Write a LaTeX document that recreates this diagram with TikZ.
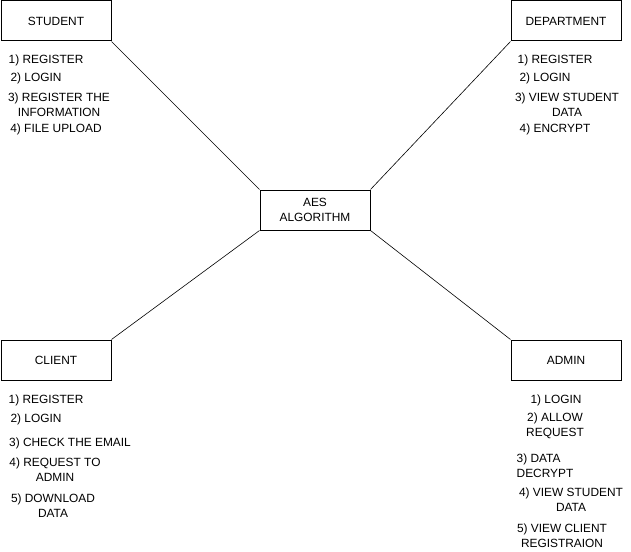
\documentclass[tikz,border=0pt]{standalone}
\usepackage{fontspec}
\setmainfont{Liberation Sans}

\begin{document}
\begin{tikzpicture}[x=1pt,y=-1pt,
		every node/.style={font=\fontsize{11.9}{15}\selectfont},
		entity/.style={draw,line width=1pt,minimum width=110pt,minimum height=40pt,inner sep=0pt,align=center},
		item/.style={inner sep=0pt,align=center}]
		\useasboundingbox (0,0) rectangle (631,551);

		\node[entity] (student) at (56,21) {STUDENT};
		\node[entity] (department) at (566,21) {DEPARTMENT};
		\node[entity] (aes) at (315,210) {AES\\ALGORITHM};
		\node[entity] (client) at (56,360) {CLIENT};
		\node[entity] (admin) at (566,360) {ADMIN};

		\draw[line width=0.6pt] (student.south east) -- (aes.north west);
		\draw[line width=0.6pt] (department.south west) -- (aes.north east);
		\draw[line width=0.6pt] (client.north east) -- (aes.south west);
		\draw[line width=0.6pt] (admin.north west) -- (aes.south east);

		\node[item] (s1) at (46,60) {1) REGISTER};
		\node[item] (s2) at (36,78) {2) LOGIN};
		\node[item] (s3) at (59,104.5) {3) REGISTER THE\\INFORMATION};
		\node[item] (s4) at (56,129) {4) FILE UPLOAD};

		\node[item] (d1) at (555,60) {1) REGISTER};
		\node[item] (d2) at (545,78) {2) LOGIN};
		\node[item] (d3) at (567,104.5) {3) VIEW STUDENT\\DATA};
		\node[item] (d4) at (555,129) {4) ENCRYPT};

		\node[item] (c1) at (46,400) {1) REGISTER};
		\node[item] (c2) at (36,419) {2) LOGIN};
		\node[item] (c3) at (70,443) {3) CHECK THE EMAIL};
		\node[item] (c4) at (55,469.5) {4) REQUEST TO\\ADMIN};
		\node[item] (c5) at (53,506) {5) DOWNLOAD\\DATA};

		\node[item] (a1) at (556,400) {1) LOGIN};
		\node[item] (a2) at (555,425.5) {2) ALLOW\\REQUEST};
		\node[item,align=left] (a3) at (545,465.5) {3) DATA\\DECRYPT};
		\node[item] (a4) at (571,499.5) {4) VIEW STUDENT\\DATA};
		\node[item] (a5) at (562,535.5) {5) VIEW CLIENT\\REGISTRAION};
	\end{tikzpicture}
\end{document}
